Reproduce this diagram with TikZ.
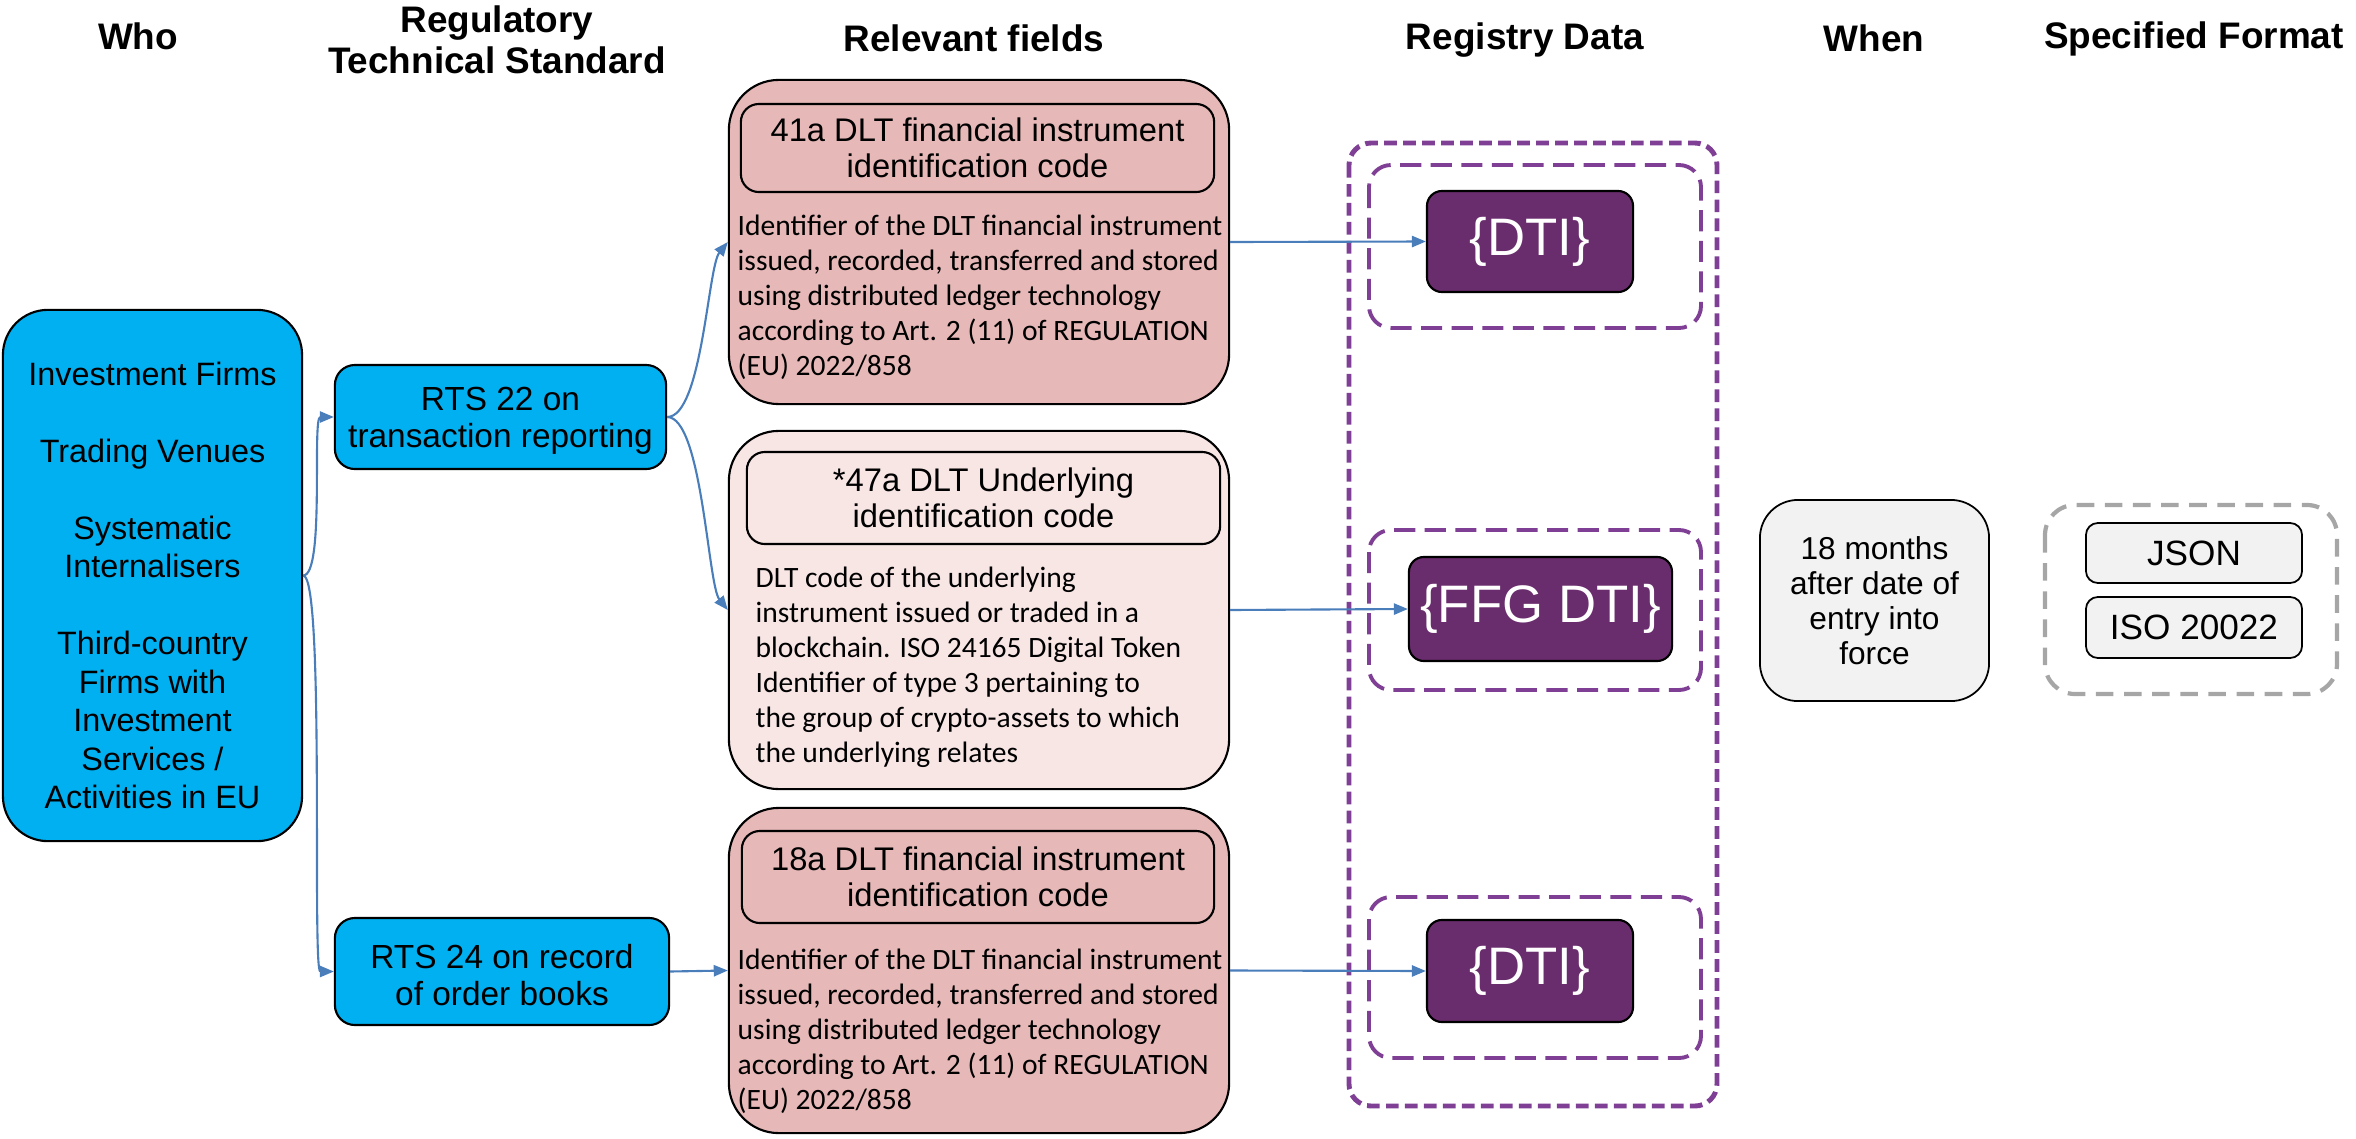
\documentclass[tikz,border=0pt]{standalone}
\usepackage{fontspec}
\setsansfont{Liberation Sans}
\newfontfamily\calibri{Carlito}
\usetikzlibrary{arrows.meta}
\definecolor{rtsblue}{HTML}{00B0F0}
\definecolor{fieldpink}{HTML}{E6B8B7}
\definecolor{fieldpale}{HTML}{F8E6E5}
\definecolor{dtipurple}{HTML}{692C6C}
\definecolor{regpurple}{HTML}{7F3F95}
\definecolor{linkblue}{HTML}{4A7EBB}
\definecolor{whengray}{HTML}{F2F2F2}
\definecolor{fmtgray}{HTML}{A6A6A6}
\begin{document}
\begin{tikzpicture}[x=0.01cm,y=-0.01cm,font=\sffamily,align=center,
  head/.style={font=\sffamily\bfseries\fontsize{10.5}{11.6}\selectfont},
  bluebox/.style={draw,line width=0.6pt,fill=rtsblue,rounded corners=0.2cm,inner sep=0pt,font=\sffamily\fontsize{9.5}{10.5}\selectfont},
  fieldbox/.style={draw,line width=0.6pt,rounded corners=0.5cm,inner sep=0pt,minimum width=5cm},
  titlebox/.style={draw,line width=0.6pt,rounded corners=0.18cm,inner sep=0pt,font=\sffamily\fontsize{9.3}{10.3}\selectfont},
  desc/.style={anchor=north west,align=left,inner sep=0pt,font=\calibri\fontsize{8.4}{9.96}\selectfont},
  dti/.style={draw,line width=0.6pt,fill=dtipurple,text=white,rounded corners=0.15cm,inner sep=0pt,font=\sffamily\fontsize{15}{18}\selectfont},
  regdash/.style={draw=regpurple,line width=1.1pt,dash pattern=on 6pt off 2.7pt,rounded corners=0.22cm},
  graybox/.style={draw,line width=0.5pt,fill=whengray,inner sep=0pt},
  link/.style={draw=linkblue,line width=0.6pt,-{Triangle[length=4pt,width=3.2pt]}}]
\useasboundingbox (0,0) rectangle (2356,1139);
\node[head] (hwho) at (138,36) {Who};
\node[head] (hrts) at (497,40) {Regulatory\\Technical Standard};
\node[head] (hfld) at (974,38) {Relevant fields};
\node[head] (hreg) at (1525,40) {Registry Data};
\node[head] (hwhen) at (1874,38) {When};
\node[head] (hfmt) at (2194,39) {Specified Format};
\node[bluebox,rounded corners=0.45cm,minimum width=2.99cm,minimum height=5.31cm,font=\sffamily\fontsize{9.2}{10.94}\selectfont] (who) at (152.5,575.5)
  {\rule{0pt}{12.3pt}Investment Firms\\[10.94pt]Trading Venues\\[10.94pt]Systematic\\Internalisers\\[10.94pt]Third-country\\Firms with\\Investment\\Services /\\Activities in EU};
\node[bluebox,minimum width=3.31cm,minimum height=1.04cm] (rts22) at (500.5,417) {\rule{0pt}{8.8pt}RTS 22 on\\transaction reporting};
\node[bluebox,minimum width=3.34cm,minimum height=1.07cm] (rts24) at (502,971.5) {\rule{0pt}{8.8pt}RTS 24 on record\\of order books};
\node[fieldbox,fill=fieldpink,minimum height=3.24cm] (fldA) at (979,242) {};
\node[titlebox,minimum width=4.73cm,minimum height=0.88cm] (titA) at (977.5,148) {41a DLT financial instrument\\identification code};
\node[desc] (descA) at (737,214) {Identifier of the DLT financial instrument\\issued, recorded, transferred and stored\\using distributed ledger technology\\according to Art. 2 (11) of REGULATION\\(EU) 2022/858};
\node[fieldbox,fill=fieldpale,minimum height=3.58cm] (fldB) at (979,610) {};
\node[titlebox,minimum width=4.73cm,minimum height=0.92cm] (titB) at (983.5,498) {*47a DLT Underlying\\identification code};
\node[desc] (descB) at (755,566) {DLT code of the underlying\\instrument issued or traded in a\\blockchain. ISO 24165 Digital Token\\Identifier of type 3 pertaining to\\the group of crypto-assets to which\\the underlying relates};
\node[fieldbox,fill=fieldpink,minimum height=3.25cm] (fldC) at (979,970.5) {};
\node[titlebox,minimum width=4.72cm,minimum height=0.92cm] (titC) at (978,877) {18a DLT financial instrument\\identification code};
\node[desc] (descC) at (737,948) {Identifier of the DLT financial instrument\\issued, recorded, transferred and stored\\using distributed ledger technology\\according to Art. 2 (11) of REGULATION\\(EU) 2022/858};
\draw[regdash,line width=1.4pt,dash pattern=on 3.6pt off 1.8pt] (1349,143) rectangle (1717,1106);
\draw[regdash] (1369,165) rectangle (1701,328);
\draw[regdash] (1369,530) rectangle (1701,690);
\draw[regdash] (1369,897) rectangle (1701,1058);
\node[dti,minimum width=2.06cm,minimum height=1.01cm] (dtiA) at (1530,241.5) {\{DTI\}};
\node[dti,minimum width=2.63cm,minimum height=1.04cm] (ffg) at (1540.5,609) {\{FFG DTI\}};
\node[dti,minimum width=2.06cm,minimum height=1.02cm] (dtiC) at (1530,971) {\{DTI\}};
\node[graybox,rounded corners=0.38cm,minimum width=2.29cm,minimum height=2.01cm,font=\sffamily\fontsize{9}{10}\selectfont] (when) at (1874.5,600.5) {18 months\\after date of\\entry into\\force};
\draw[draw=fmtgray,line width=1.2pt,dash pattern=on 5pt off 3pt,rounded corners=0.3cm] (2045,505) rectangle (2337,694);
\node[graybox,rounded corners=0.12cm,minimum width=2.16cm,minimum height=0.6cm,font=\sffamily\fontsize{10}{11}\selectfont] (json) at (2194,553) {JSON};
\node[graybox,rounded corners=0.12cm,minimum width=2.16cm,minimum height=0.61cm,font=\sffamily\fontsize{10}{11}\selectfont] (iso) at (2194,627.5) {ISO 20022};
\draw[link] (who.east) .. controls +(22,0) and +(-22,0) .. (rts22.west);
\draw[link] (who.east) .. controls +(22,0) and +(-22,0) .. (rts24.west);
\draw[link] (rts22.east) .. controls +(35,0) and +(-20,25) .. (fldA.west);
\draw[link] (rts22.east) .. controls +(35,0) and +(-20,-25) .. (fldB.west);
\draw[link] (rts24.east) -- (fldC.west);
\draw[link] (fldA.east) -- (dtiA.west);
\draw[link] (fldB.east) -- (ffg.west);
\draw[link] (fldC.east) -- (dtiC.west);
\end{tikzpicture}
\end{document}
